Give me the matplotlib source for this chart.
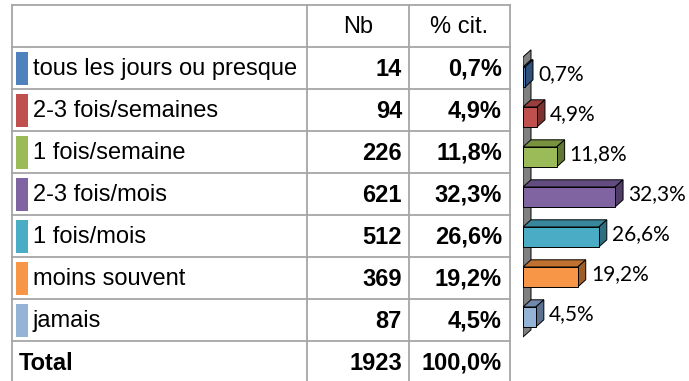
import matplotlib.pyplot as plt
from matplotlib.patches import Polygon, Rectangle

# frequency answers
categories = ["tous les jours ou presque", "2-3 fois/semaines", "1 fois/semaine",
              "2-3 fois/mois", "1 fois/mois", "moins souvent", "jamais"]
counts = [14, 94, 226, 621, 512, 369, 87]
percents = [0.7, 4.9, 11.8, 32.3, 26.6, 19.2, 4.5]
total_count = 1923
total_pct = 100.0

front_colors = ["#4F81BD", "#C0504D", "#9BBB59", "#8064A2", "#4BACC6", "#F79646", "#95B3D7"]
top_colors = ["#3A6393", "#983E3C", "#78923F", "#624C80", "#38879C", "#C17230", "#7189AA"]
side_colors = ["#2F5078", "#7E3230", "#617733", "#4F3D68", "#2D6E80", "#9E5D27", "#5C7090"]


def fr(x, decimals=1):
    return f"{x:.{decimals}f}".replace(".", ",") + "%"


W, H = 689, 381
fig = plt.figure(figsize=(W / 100, H / 100), dpi=100)

# ---- table part ----
ax = fig.add_axes([0, 0, 1, 1])
ax.set_xlim(0, W)
ax.set_ylim(H, 0)
ax.axis("off")

grid = "#A6A6A6"
row_h = 42
top = 5
cols = [12, 307, 409, 510]
n_rows = len(categories) + 2
for i in range(n_rows):
    y = top + i * row_h
    ax.plot([cols[0], cols[-1]], [y, y], color=grid, lw=1.3)
for x in cols:
    ax.plot([x, x], [top, H + 5], color=grid, lw=1.3)

tfont = dict(family="Liberation Sans", fontsize=17)
ax.text((cols[1] + cols[2]) / 2, top + row_h / 2 + 1, "Nb", ha="center", va="center", **tfont)
ax.text((cols[2] + cols[3]) / 2, top + row_h / 2 + 1, "% cit.", ha="center", va="center", **tfont)

for i, (cat, n, p) in enumerate(zip(categories, counts, percents)):
    y0 = top + (i + 1) * row_h
    yc = y0 + row_h / 2 + 1
    ax.add_patch(Rectangle((16, y0 + 5), 12, row_h - 9, color=front_colors[i], lw=0))
    ax.text(33, yc, cat, ha="left", va="center", **tfont)
    ax.text(cols[2] - 7, yc, str(n), ha="right", va="center", fontweight="bold", **tfont)
    ax.text(cols[3] - 8, yc, fr(p), ha="right", va="center", fontweight="bold", **tfont)

yt = top + (len(categories) + 1) * row_h + row_h / 2 + 1
ax.text(19, yt, "Total", ha="left", va="center", fontweight="bold", **tfont)
ax.text(cols[2] - 7, yt, str(total_count), ha="right", va="center", fontweight="bold", **tfont)
ax.text(cols[3] - 8, yt, fr(total_pct), ha="right", va="center", fontweight="bold", **tfont)

# ---- 3D-look horizontal bars ----
px_per_pct = 2.85
bx0, by0, bw, bh = 523, 37, W - 523, 320
bax = fig.add_axes([bx0 / W, 1 - (by0 + bh) / H, bw / W, bh / H])
bax.set_xlim(0, bw / px_per_pct)
bax.set_ylim(len(categories), -1)
bax.axis("off")

dx = 8 / px_per_pct
dy = -0.18
half = 0.25
n = len(categories)

wall = Polygon([(0, -0.5), (0, n - 0.5), (dx, n - 0.5 + dy), (dx, -0.5 + dy)],
               closed=True, facecolor="#808080", edgecolor="black", lw=0.7)
bax.add_patch(wall)

for i, v in enumerate(percents):
    y_top, y_bot = i - half, i + half
    bax.add_patch(Polygon([(0, y_top), (v, y_top), (v + dx, y_top + dy), (dx, y_top + dy)],
                          closed=True, facecolor=top_colors[i], edgecolor="black", lw=0.7))
    bax.add_patch(Polygon([(v, y_top), (v, y_bot), (v + dx, y_bot + dy), (v + dx, y_top + dy)],
                          closed=True, facecolor=side_colors[i], edgecolor="black", lw=0.7))
    bax.add_patch(Rectangle((0, y_top), v, 2 * half, facecolor=front_colors[i],
                            edgecolor="black", lw=0.7))
    bax.text(v + dx + 1.8, i - 0.08, fr(v), ha="left", va="center",
             family="Lato", fontsize=15, clip_on=False)

fig.savefig("out.png", dpi=100)
